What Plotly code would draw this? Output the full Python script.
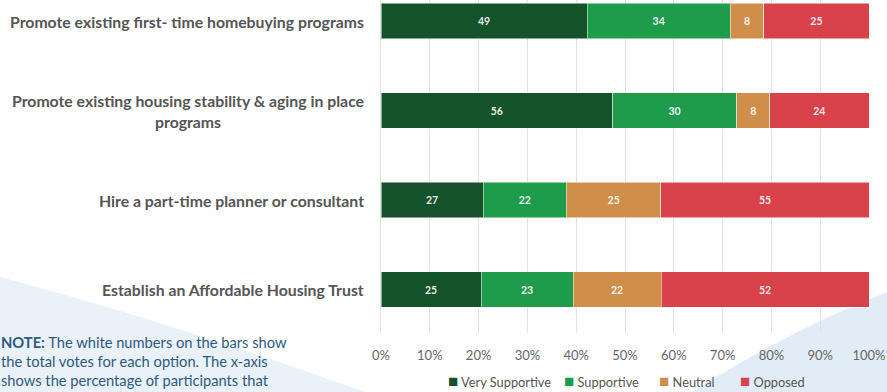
import plotly.graph_objects as go

options = [
    "Promote existing first- time homebuying programs",
    "Promote existing housing stability & aging in place<br>programs",
    "Hire a part-time planner or consultant",
    "Establish an Affordable Housing Trust",
]
very_supportive = [49, 56, 27, 25]
supportive = [34, 30, 22, 23]
neutral = [8, 8, 25, 22]
opposed = [25, 24, 55, 52]

series_names = ["Very Supportive", "Supportive", "Neutral", "Opposed"]
series_colors = ["#145229", "#1e9c4b", "#cf8f4b", "#d9424a"]
tick_vals = [0, 10, 20, 30, 40, 50, 60, 70, 80, 90, 100]
tick_text = ["0%", "10%", "20%", "30%", "40%", "50%", "60%", "70%", "80%", "90%", "100%"]

note_text = ("<b>NOTE:</b> The white numbers on the bars show<br>"
             "the total votes for each option. The x-axis<br>"
             "shows the percentage of participants that")

W, H = 887, 392
L, R, T, B = 381, 18, 0, 59
PW, PH = W - L - R, H - T - B


def px(x, y):
    # pixel position -> paper coordinates
    return (x - L) / PW, (H - B - y) / PH


def path(points):
    cmds = []
    for cmd, pts in points:
        coords = " ".join("%.4f,%.4f" % px(*p) for p in pts)
        cmds.append(cmd + " " + coords)
    return " ".join(cmds) + " Z"


all_series = [very_supportive, supportive, neutral, opposed]
totals = [sum(v) for v in zip(*all_series)]

fig = go.Figure()
for name, color, vals in zip(series_names, series_colors, all_series):
    pct = [v / t * 100 for v, t in zip(vals, totals)]
    fig.add_trace(go.Bar(
        y=options, x=pct, orientation="h", name=name,
        marker=dict(color=color, line=dict(color="rgba(255,255,255,0.5)", width=1)),
        text=vals, texttemplate="<b>%{text}</b>",
        textposition="inside", insidetextanchor="middle", textangle=0,
        textfont=dict(color="rgba(255,255,255,0.92)", size=10.5, family="Lato"),
        width=0.4, hoverinfo="skip", showlegend=False,
    ))

# category labels, centred multi-line like the original
for opt in options:
    fig.add_annotation(
        x=0, xref="paper", y=opt, yref="y", xanchor="right", xshift=-15,
        text="<b>" + opt.replace("<br>", "</b><br><b>") + "</b>", showarrow=False, align="center",
        font=dict(family="Lato", size=15.8, color="#555555"),
    )

fig.add_annotation(
    x=px(-1, 0)[0], xref="paper", y=px(0, 331)[1], yref="paper",
    xanchor="left", yanchor="top", text=note_text, showarrow=False, align="left",
    font=dict(family="Lato", size=14.7, color="#2e5b82"),
)

# legend drawn as text so the swatch sits close to its label
legend_x = [446, 562, 657, 738]
for name, color, lx in zip(series_names, series_colors, legend_x):
    fig.add_annotation(
        x=px(lx, 0)[0], xref="paper", y=px(0, 380)[1], yref="paper",
        xanchor="left", yanchor="middle", showarrow=False,
        text="<span style='color:%s;font-size:17px'>■</span> %s" % (color, name),
        font=dict(family="Lato", size=12.8, color="#555555"),
    )

# background swooshes
fig.add_shape(type="path", xref="paper", yref="paper", layer="below", line_width=0,
              fillcolor="rgba(214,228,242,0.5)",
              path=path([("M", [(0, 277)]), ("Q", [(170, 322), (365, 392)]),
                         ("L", [(0, 392)])]))
fig.add_shape(type="path", xref="paper", yref="paper", layer="below", line_width=0,
              fillcolor="rgba(205,224,242,0.6)",
              path=path([("M", [(887, 292)]), ("Q", [(790, 330), (692, 392)]),
                         ("L", [(887, 392)])]))

fig.update_layout(
    barmode="stack",
    width=W, height=H,
    margin=dict(l=L, r=R, t=T, b=B),
    paper_bgcolor="white", plot_bgcolor="rgba(0,0,0,0)",
    font=dict(family="Lato", color="#666666"),
    showlegend=False,
    bargap=0.6,
)
fig.update_xaxes(range=[0, 100], tickvals=tick_vals, ticktext=tick_text,
                 showgrid=True, gridcolor="#e2e2e2", gridwidth=1, zeroline=False,
                 ticks="outside", ticklen=10, tickcolor="rgba(0,0,0,0)",
                 tickfont=dict(size=13, color="#666666"))
fig.update_yaxes(range=[3.486, -0.235], showticklabels=False, showgrid=False, zeroline=False,
                 showline=True, linecolor="#e2e2e2", linewidth=1)

fig.write_html("out.html", config={"displayModeBar": False},
               post_script="document.body.style.margin='0';")
